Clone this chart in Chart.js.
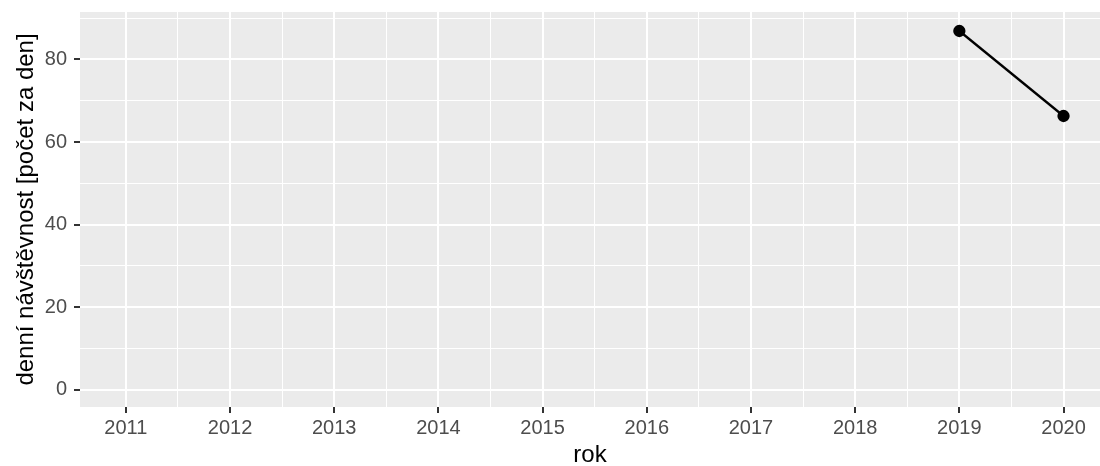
<!DOCTYPE html>
<html>
<head>
<meta charset="utf-8">
<script src="https://cdn.jsdelivr.net/npm/chart.js@4.4.1/dist/chart.umd.min.js"></script>
<style>
  html, body { margin: 0; padding: 0; background: #fff; overflow: hidden; }
  #wrap { width: 1100px; height: 466px; position: relative; }
</style>
</head>
<body>
<div id="wrap"><canvas id="c"></canvas></div>
<script>
// data
const years = [2011, 2012, 2013, 2014, 2015, 2016, 2017, 2018, 2019, 2020];
const visits = [null, null, null, null, null, null, null, null, 86.9, 66.3];
const yTicks = [0, 10, 20, 30, 40, 50, 60, 70, 80, 90];
const xTicks = [2011, 2011.5, 2012, 2012.5, 2013, 2013.5, 2014, 2014.5, 2015, 2015.5,
  2016, 2016.5, 2017, 2017.5, 2018, 2018.5, 2019, 2019.5, 2020];

const font = 'Liberation Sans, Arial, Helvetica, sans-serif';

// grey ggplot panel
const panelBg = {
  id: 'panelBg',
  beforeDraw(chart) {
    const { ctx, chartArea: a } = chart;
    ctx.save();
    ctx.fillStyle = '#EBEBEB';
    ctx.fillRect(a.left, a.top, a.right - a.left, a.bottom - a.top);
    ctx.restore();
  }
};

const isMajorY = v => v % 20 === 0;
const isMajorX = v => Number.isInteger(v);

new Chart(document.getElementById('c'), {
  type: 'line',
  data: {
    datasets: [{
      data: years.map((y, i) => ({ x: y, y: visits[i] })),
      borderColor: '#000',
      backgroundColor: '#000',
      borderWidth: 2.3,
      pointRadius: 5,
      pointHoverRadius: 5,
      spanGaps: false,
      tension: 0
    }]
  },
  options: {
    responsive: true,
    maintainAspectRatio: false,
    animation: false,
    layout: { autoPadding: false, padding: { top: 12, right: 0, left: 0, bottom: 0 } },
    plugins: { legend: { display: false }, tooltip: { enabled: false } },
    scales: {
      x: {
        type: 'linear',
        min: 2010.56,
        max: 2020.35,
        afterBuildTicks: s => { s.ticks = xTicks.map(v => ({ value: v })); },
        afterFit: s => { s.height = 59; s.paddingLeft = 0; s.paddingRight = 0; },
        border: { display: false },
        grid: {
          color: '#FFFFFF',
          lineWidth: c => isMajorX(c.tick.value) ? 2 : 1,
          tickColor: c => isMajorX(c.tick.value) ? '#333333' : 'rgba(0,0,0,0)',
          tickLength: 6,
          tickWidth: 2
        },
        ticks: {
          autoSkip: false,
          maxRotation: 0,
          padding: 3,
          color: '#4D4D4D',
          font: { family: font, size: 20 },
          callback: v => isMajorX(v) ? String(v) : ''
        },
        title: {
          display: true,
          text: 'rok',
          color: '#000',
          font: { family: font, size: 24 },
          padding: { top: 0, bottom: -4 }
        }
      },
      y: {
        min: -4.2,
        max: 91.5,
        afterBuildTicks: s => { s.ticks = yTicks.map(v => ({ value: v })); },
        afterFit: s => { s.width = 80; s.paddingTop = 0; s.paddingBottom = 0; },
        border: { display: false },
        grid: {
          color: '#FFFFFF',
          lineWidth: c => isMajorY(c.tick.value) ? 2 : 1,
          tickColor: c => isMajorY(c.tick.value) ? '#333333' : 'rgba(0,0,0,0)',
          tickLength: 6,
          tickWidth: 2
        },
        ticks: {
          padding: 7,
          color: '#4D4D4D',
          font: { family: font, size: 20 },
          callback: v => isMajorY(v) ? String(v) : ''
        },
        title: {
          display: true,
          text: 'denní návštěvnost [počet za den]',
          color: '#000',
          font: { family: font, size: 24 },
          padding: { top: 12, bottom: 0 }
        }
      }
    }
  },
  plugins: [panelBg]
});
</script>
</body>
</html>
